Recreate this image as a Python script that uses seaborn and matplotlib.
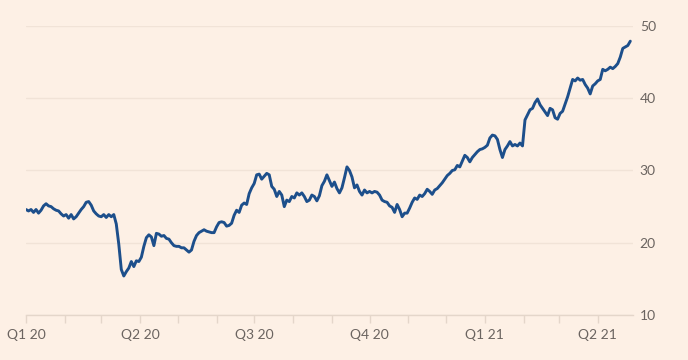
import pandas as pd
import numpy as np
import seaborn as sns
import matplotlib.pyplot as plt
import matplotlib.dates as mdates

# values, one every 2 days from 1 Jan 2020
start_date = "2020-01-01"
prices = [
    24.6, 24.4, 24.6, 24.2, 24.6, 24.1, 24.5, 25.1, 25.4, 25.1,
    25.0, 24.7, 24.5, 24.4, 24.0, 23.7, 23.9, 23.4, 23.9, 23.3,
    23.6, 24.1, 24.6, 25.0, 25.6, 25.7, 25.2, 24.4, 24.0, 23.7,
    23.6, 23.9, 23.5, 23.9, 23.6, 23.9, 22.6, 19.8, 16.3, 15.4,
    16.0, 16.5, 17.4, 16.7, 17.5, 17.4, 18.0, 19.5, 20.7, 21.1,
    20.8, 19.6, 21.3, 21.2, 20.9, 21.0, 20.6, 20.5, 20.0, 19.6,
    19.5, 19.5, 19.3, 19.3, 19.0, 18.7, 19.0, 20.2, 21.0, 21.4,
    21.6, 21.8, 21.6, 21.5, 21.4, 21.4, 22.2, 22.8, 22.9, 22.8,
    22.3, 22.4, 22.7, 23.8, 24.5, 24.2, 25.2, 25.5, 25.3, 26.8,
    27.6, 28.2, 29.4, 29.5, 28.8, 29.2, 29.6, 29.4, 27.8, 27.4,
    26.4, 27.1, 26.6, 25.0, 25.9, 25.7, 26.4, 26.2, 26.9, 26.6,
    26.9, 26.4, 25.7, 25.9, 26.6, 26.4, 25.8, 26.5, 27.9, 28.5,
    29.4, 28.6, 27.8, 28.4, 27.5, 26.9, 27.6, 29.0, 30.5, 30.0,
    29.1, 27.6, 28.0, 27.1, 26.6, 27.3, 26.9, 27.1, 26.9, 27.1,
    27.0, 26.6, 25.9, 25.7, 25.6, 25.1, 24.9, 24.2, 25.3, 24.6,
    23.6, 24.1, 24.1, 24.8, 25.6, 26.2, 26.0, 26.6, 26.4, 26.8,
    27.4, 27.1, 26.7, 27.3, 27.5, 27.9, 28.3, 28.8, 29.3, 29.6,
    30.0, 30.1, 30.7, 30.5, 31.3, 32.1, 31.8, 31.2, 31.8, 32.2,
    32.6, 32.9, 33.0, 33.2, 33.5, 34.5, 34.9, 34.8, 34.3, 32.9,
    31.8, 32.9, 33.4, 34.0, 33.4, 33.6, 33.4, 33.8, 33.4, 37.0,
    37.7, 38.4, 38.6, 39.4, 39.9, 39.1, 38.6, 38.1, 37.6, 38.6,
    38.4, 37.3, 37.1, 37.9, 38.2, 39.2, 40.2, 41.4, 42.6, 42.4,
    42.8, 42.5, 42.6, 41.9, 41.4, 40.6, 41.7, 42.0, 42.4, 42.6,
    44.0, 43.8, 44.0, 44.3, 44.1, 44.4, 44.8, 45.7, 46.9, 47.1,
    47.3, 47.9,
]
y_ticks = [10, 20, 30, 40, 50]
quarter_starts = ["2020-01-01", "2020-04-01", "2020-07-01", "2020-10-01", "2021-01-01", "2021-04-01"]
quarter_labels = ["Q1 20", "Q2 20", "Q3 20", "Q4 20", "Q1 21", "Q2 21"]

df = pd.DataFrame({
    "date": pd.date_range(start_date, periods=len(prices), freq="2D"),
    "price": prices,
})

bg = "#FDF0E5"
grid_col = "#F1E3D7"
axis_col = "#E4D6CA"
text_col = "#6B6460"

sns.set_theme(style="white")
plt.rcParams["font.family"] = ["Lato", "DejaVu Sans"]

fig = plt.figure(figsize=(6.88, 3.6), dpi=100, facecolor=bg)
ax = fig.add_axes([0.0378, 0.125, 0.882, 0.8028], facecolor=bg)

sns.lineplot(data=df, x="date", y="price", ax=ax, color="#1D4F8B", linewidth=2.1)

ax.set_ylim(10, 50)
ax.set_xlim(pd.Timestamp("2020-01-01"), pd.Timestamp("2021-04-29"))
ax.set_yticks(y_ticks)
ax.yaxis.tick_right()
ax.grid(axis="y", color=grid_col, linewidth=1)
ax.set_axisbelow(True)

ax.set_xticks(pd.to_datetime(quarter_starts))
ax.set_xticklabels(quarter_labels)
ax.xaxis.set_minor_locator(mdates.MonthLocator())

for name, s in ax.spines.items():
    s.set_visible(name == "bottom")
ax.spines["bottom"].set_color(axis_col)
ax.spines["bottom"].set_linewidth(1)

ax.tick_params(axis="y", length=0, pad=5, labelsize=10, labelcolor=text_col)
ax.tick_params(axis="x", which="major", length=6, width=1, color=axis_col,
               pad=4, labelsize=10, labelcolor=text_col, bottom=True)
ax.tick_params(axis="x", which="minor", length=6, width=1, color=axis_col, bottom=True)
ax.set_xlabel("")
ax.set_ylabel("")

fig.savefig("out.png", dpi=100, facecolor=bg)
